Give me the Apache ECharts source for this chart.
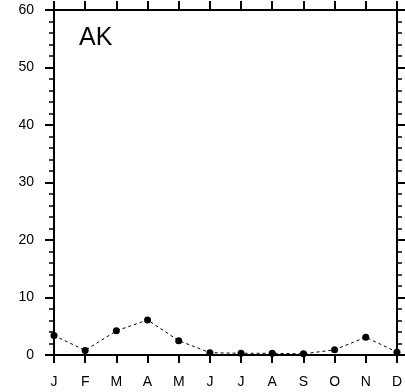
<!DOCTYPE html>
<html>
<head>
<meta charset="utf-8">
<script src="https://cdn.jsdelivr.net/npm/echarts@6/dist/echarts.min.js"></script>
<style>
  html, body { margin: 0; padding: 0; background: #fff; }
  #chart { width: 405px; height: 392px; }
</style>
</head>
<body>
<div id="chart"></div>
<script>
// Monthly values for the AK panel
const months = ['J', 'F', 'M', 'A', 'M', 'J', 'J', 'A', 'S', 'O', 'N', 'D'];
const values = [3.4, 0.8, 4.2, 6.1, 2.5, 0.4, 0.3, 0.3, 0.2, 0.9, 3.1, 0.5];
const yTicks = { min: 0, max: 60, interval: 10 };
const panelLabel = 'AK';

const font = 'Liberation Sans, Helvetica, Arial, sans-serif';
const axisLine = { show: true, onZero: false, lineStyle: { color: '#000', width: 2 } };

const chart = echarts.init(document.getElementById('chart'), null, { renderer: 'canvas' });
chart.setOption({
  animation: false,
  backgroundColor: '#fff',
  title: {
    text: panelLabel,
    left: 74,
    top: 21,
    textStyle: { fontFamily: font, fontSize: 25, fontWeight: 'normal', color: '#000' }
  },
  grid: { left: 54, right: 5, top: 10, bottom: 37 },
  xAxis: [
    {
      type: 'category',
      data: months,
      boundaryGap: false,
      position: 'bottom',
      axisLine: axisLine,
      axisTick: { show: true, inside: false, length: 8, lineStyle: { color: '#000', width: 2 } },
      axisLabel: { margin: 20, color: '#000', fontFamily: font, fontSize: 14 },
      splitLine: { show: false }
    },
    {
      type: 'category',
      data: months,
      boundaryGap: false,
      position: 'top',
      axisLine: axisLine,
      axisTick: { show: true, inside: false, length: 9, lineStyle: { color: '#000', width: 2 } },
      axisLabel: { show: false },
      splitLine: { show: false }
    }
  ],
  yAxis: [
    {
      type: 'value',
      min: yTicks.min,
      max: yTicks.max,
      interval: yTicks.interval,
      position: 'left',
      axisLine: axisLine,
      axisTick: { show: true, inside: false, length: 9, lineStyle: { color: '#000', width: 2 } },
      minorTick: { show: true, splitNumber: 5, length: 5, lineStyle: { color: '#000', width: 1.5 } },
      axisLabel: { margin: 20, color: '#000', fontFamily: font, fontSize: 14 },
      splitLine: { show: false }
    },
    {
      type: 'value',
      min: yTicks.min,
      max: yTicks.max,
      interval: yTicks.interval,
      position: 'right',
      axisLine: axisLine,
      axisTick: { show: true, inside: false, length: 9, lineStyle: { color: '#000', width: 2 } },
      minorTick: { show: true, splitNumber: 5, length: 5, lineStyle: { color: '#000', width: 1.5 } },
      axisLabel: { show: false },
      splitLine: { show: false }
    }
  ],
  series: [
    {
      type: 'line',
      data: values,
      xAxisIndex: 0,
      yAxisIndex: 0,
      symbol: 'circle',
      symbolSize: 7,
      itemStyle: { color: '#000' },
      lineStyle: { color: '#000', width: 1, type: [3, 3] },
      clip: false
    }
  ]
});
</script>
</body>
</html>
